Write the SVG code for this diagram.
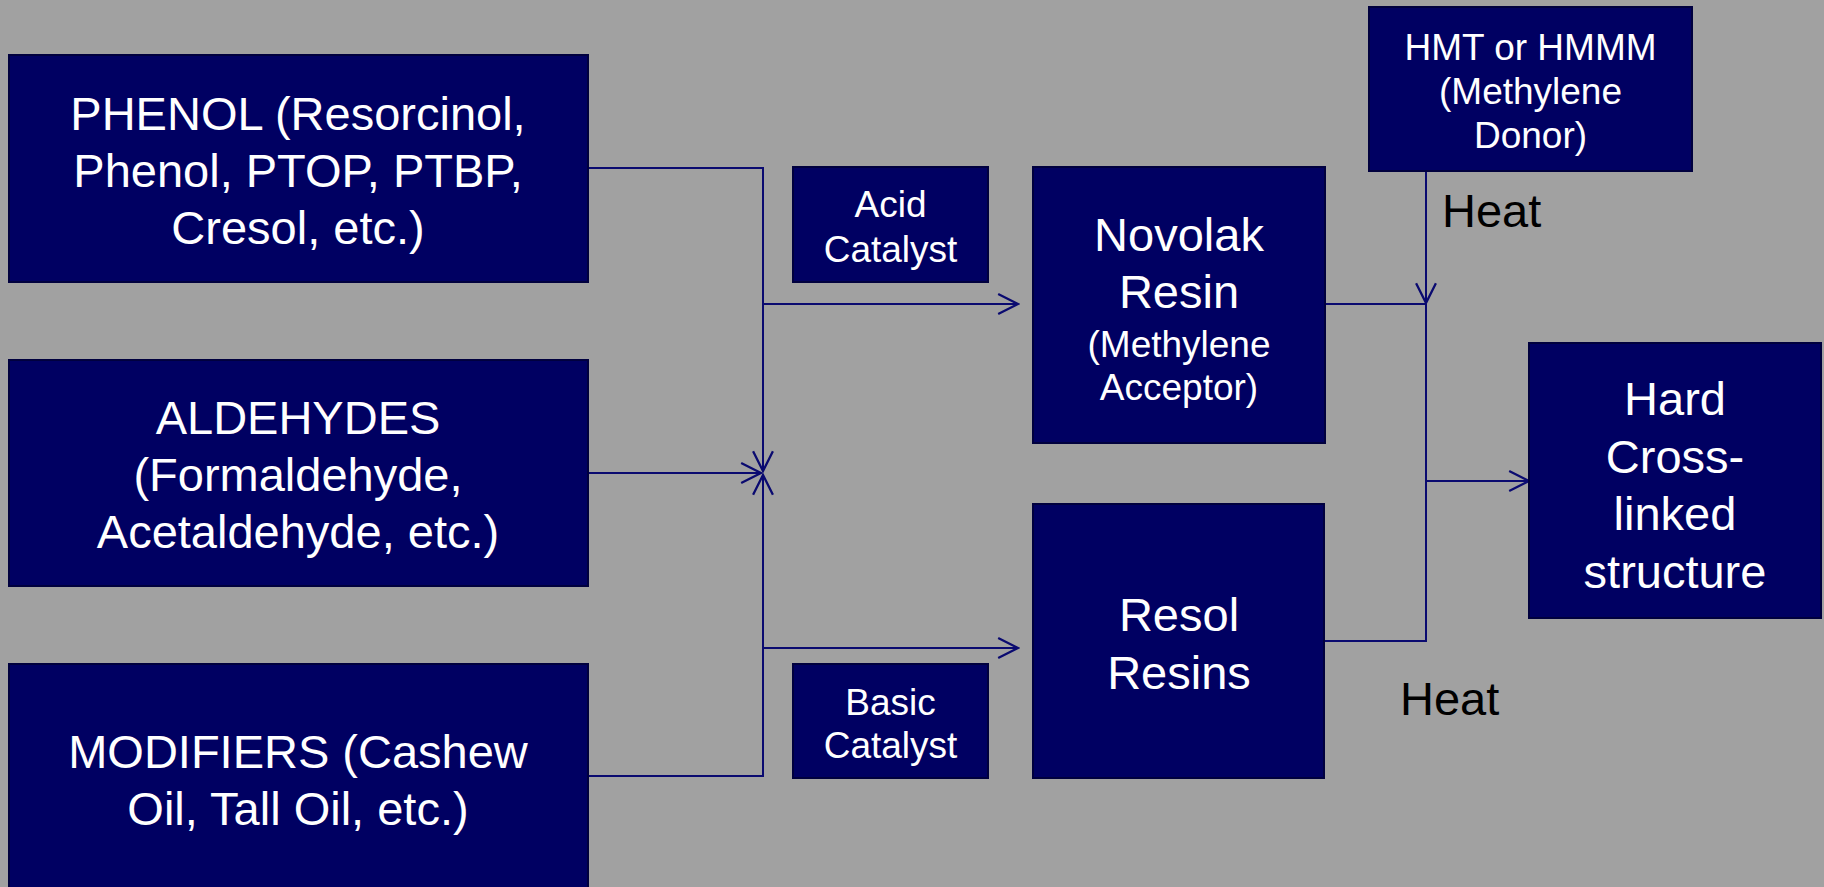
<svg xmlns="http://www.w3.org/2000/svg" width="1824" height="887" viewBox="0 0 1824 887">
<defs>
<style>
.box{fill:#000062;stroke:#00003e;stroke-width:2}
.t{font-family:"Liberation Sans",Arial,sans-serif;fill:#ffffff;text-anchor:middle}
.L{font-size:47px}
.S{font-size:37px}
.heat{font-family:"Liberation Sans",Arial,sans-serif;font-size:47px;fill:#000000}
.c{fill:none;stroke:#0a0a70;stroke-width:2}
</style>
<marker id="arr" markerUnits="userSpaceOnUse" markerWidth="24" markerHeight="24" viewBox="-21 -11 23 22" refX="0" refY="0" orient="auto">
<path d="M-19,-9.5 L0,0 L-19,9.5" fill="none" stroke="#0a0a70" stroke-width="2.2"/>
</marker>
</defs>
<rect width="1824" height="887" fill="#a1a1a1"/>
<g id="connectors">
<path class="c" d="M588,168 H763 V471" marker-end="url(#arr)"/>
<path class="c" d="M588,776 H763 V475" marker-end="url(#arr)"/>
<path class="c" d="M588,473 H761" marker-end="url(#arr)"/>
<path class="c" d="M763,304 H1018" marker-end="url(#arr)"/>
<path class="c" d="M763,648 H1018" marker-end="url(#arr)"/>
<path class="c" d="M1325,304 H1426"/>
<path class="c" d="M1426,171 V303" marker-end="url(#arr)"/>
<path class="c" d="M1324,641 H1426 V304"/>
<path class="c" d="M1426,481 H1529" marker-end="url(#arr)"/>
</g>
<g id="phenol">
<rect class="box" x="9" y="55" width="579" height="227"/>
<text class="t L" x="298" y="129.5">PHENOL (Resorcinol,</text>
<text class="t L" x="298" y="186.5">Phenol, PTOP, PTBP,</text>
<text class="t L" x="298" y="243.5">Cresol, etc.)</text>
</g>
<g id="aldehydes">
<rect class="box" x="9" y="360" width="579" height="226"/>
<text class="t L" x="298" y="434">ALDEHYDES</text>
<text class="t L" x="298" y="491">(Formaldehyde,</text>
<text class="t L" x="298" y="548">Acetaldehyde, etc.)</text>
</g>
<g id="modifiers">
<rect class="box" x="9" y="664" width="579" height="240"/>
<text class="t L" x="298" y="768">MODIFIERS (Cashew</text>
<text class="t L" x="298" y="825">Oil, Tall Oil, etc.)</text>
</g>
<g id="acid">
<rect class="box" x="793" y="167" width="195" height="115"/>
<text class="t S" x="890.5" y="217">Acid</text>
<text class="t S" x="890.5" y="262">Catalyst</text>
</g>
<g id="basic">
<rect class="box" x="793" y="664" width="195" height="114"/>
<text class="t S" x="890.5" y="715">Basic</text>
<text class="t S" x="890.5" y="758">Catalyst</text>
</g>
<g id="novolak">
<rect class="box" x="1033" y="167" width="292" height="276"/>
<text class="t L" x="1179" y="251">Novolak</text>
<text class="t L" x="1179" y="308">Resin</text>
<text class="t S" x="1179" y="357">(Methylene</text>
<text class="t S" x="1179" y="400">Acceptor)</text>
</g>
<g id="resol">
<rect class="box" x="1033" y="504" width="291" height="274"/>
<text class="t L" x="1179" y="631">Resol</text>
<text class="t L" x="1179" y="689">Resins</text>
</g>
<g id="hmt">
<rect class="box" x="1369" y="7" width="323" height="164"/>
<text class="t S" x="1530.5" y="60">HMT or HMMM</text>
<text class="t S" x="1530.5" y="104">(Methylene</text>
<text class="t S" x="1530.5" y="148">Donor)</text>
</g>
<g id="hard">
<rect class="box" x="1529" y="343" width="292" height="275"/>
<text class="t L" x="1675" y="415">Hard</text>
<text class="t L" x="1675" y="473">Cross-</text>
<text class="t L" x="1675" y="530">linked</text>
<text class="t L" x="1675" y="588">structure</text>
</g>
<g id="heat-labels">
<text class="heat" x="1442" y="227">Heat</text>
<text class="heat" x="1400" y="715">Heat</text>
</g>
</svg>
